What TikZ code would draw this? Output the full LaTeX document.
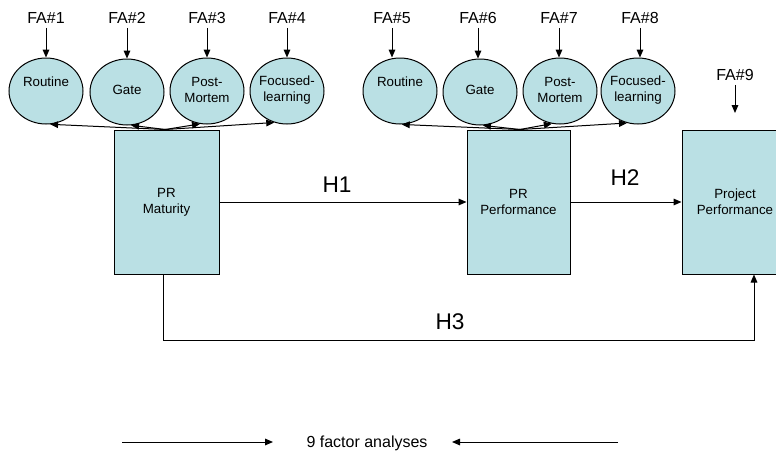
\documentclass[tikz,border=0pt]{standalone}
\usepackage{fontspec}
\setmainfont{Liberation Sans}
\usetikzlibrary{arrows.meta,shapes.geometric,calc}
\definecolor{boxfill}{RGB}{186,224,228}
\begin{document}
\begin{tikzpicture}[x=0.75pt,y=-0.75pt,
  arr/.style={draw=black,line width=0.75pt,-{Triangle[length=6pt,width=5pt]}},
  ell/.style={ellipse,draw=black,line width=0.75pt,fill=boxfill,minimum width=55.5pt,minimum height=49.5pt,inner sep=0pt},
  sbox/.style={rectangle,draw=black,line width=0.75pt,fill=boxfill,align=center,font=\fontsize{10}{12}\selectfont,inner sep=0pt},
  etext/.style={align=center,font=\fontsize{10}{12}\selectfont,inner sep=0pt},
  falab/.style={font=\fontsize{12}{14}\selectfont,inner sep=0pt},
  hlab/.style={font=\fontsize{17}{20}\selectfont,inner sep=0pt}]
\useasboundingbox (0,0) rectangle (776,454);
\clip (0,0) rectangle (776,454);

% ellipses group 1
\node[ell] (e1) at (46,91) {};
\node[ell] (e2) at (127,92) {};
\node[ell] (e3) at (207,91) {};
\node[ell] (e4) at (287,91) {};
% ellipses group 2
\node[ell] (e5) at (400,91) {};
\node[ell] (e6) at (480,92) {};
\node[ell] (e7) at (560,91) {};
\node[ell] (e8) at (638,91) {};

\node[etext] (t1) at (46,82) {Routine};
\node[etext] (t2) at (127,90) {Gate};
\node[etext] (t3) at (207,90) {Post-\\Mortem};
\node[etext] (t4) at (287,90) {Focused-\\learning};
\node[etext] (t5) at (400,82) {Routine};
\node[etext] (t6) at (480,90) {Gate};
\node[etext] (t7) at (560,90) {Post-\\Mortem};
\node[etext] (t8) at (638,90) {Focused-\\learning};

% FA labels
\node[falab] (fa1) at (46,18) {FA\#1};
\node[falab] (fa2) at (127,18) {FA\#2};
\node[falab] (fa3) at (207,18) {FA\#3};
\node[falab] (fa4) at (287,18) {FA\#4};
\node[falab] (fa5) at (392,18) {FA\#5};
\node[falab] (fa6) at (478,18) {FA\#6};
\node[falab] (fa7) at (559,18) {FA\#7};
\node[falab] (fa8) at (640,18) {FA\#8};
\node[falab] (fa9) at (735,75) {FA\#9};

\foreach \i in {1,...,8}{
  \draw[arr] ([yshift=-3pt]fa\i.south) -- (fa\i.south |- e\i.north);
}
\coordinate (fa9end) at (735,113);
\draw[arr] ([yshift=-3pt]fa9.south) -- (fa9end);

% boxes
\node[sbox,minimum width=78.75pt,minimum height=108pt] (m) at (166.5,202) {PR\\Maturity};
\node[sbox,minimum width=77.25pt,minimum height=108pt] (p) at (518.5,202) {PR\\Performance};
\node[sbox,minimum width=79.5pt,minimum height=108pt] (q) at (735,202) {Project\\Performance};

% fan arrows
\coordinate (m0) at ([xshift=-1pt]m.north);
\draw[arr] (m0) -- (e1.277);
\draw[arr] (m0) -- (e2.277);
\draw[arr] (m0) -- (e3.258);
\draw[arr] (m0) -- (e4.248);
\coordinate (p0) at ([xshift=1pt]p.north);
\draw[arr] (p0) -- (e5.273);
\draw[arr] (p0) -- (e6.275);
\draw[arr] (p0) -- (e7.256);
\draw[arr] (p0) -- (e8.251);

% hypotheses
\draw[arr] (m.east) -- (p.west);
\draw[arr] (p.east) -- (q.west);
\draw[arr] ([xshift=-2.6pt]m.south) -- ++(0,-49.5pt) -| ([xshift=14.25pt]q.south);
\node[hlab] (h1) at (337,185) {H1};
\node[hlab] (h2) at (625,178) {H2};
\node[hlab] (h3) at (450,322) {H3};

% bottom
\node[falab] (nine) at (367,443) {9 factor analyses};
\coordinate (la) at (122,442);
\coordinate (lb) at (273,442);
\coordinate (ra) at (618,442);
\coordinate (rb) at (452,442);
\draw[arr] (la) -- (lb);
\draw[arr] (ra) -- (rb);
\end{tikzpicture}
\end{document}
